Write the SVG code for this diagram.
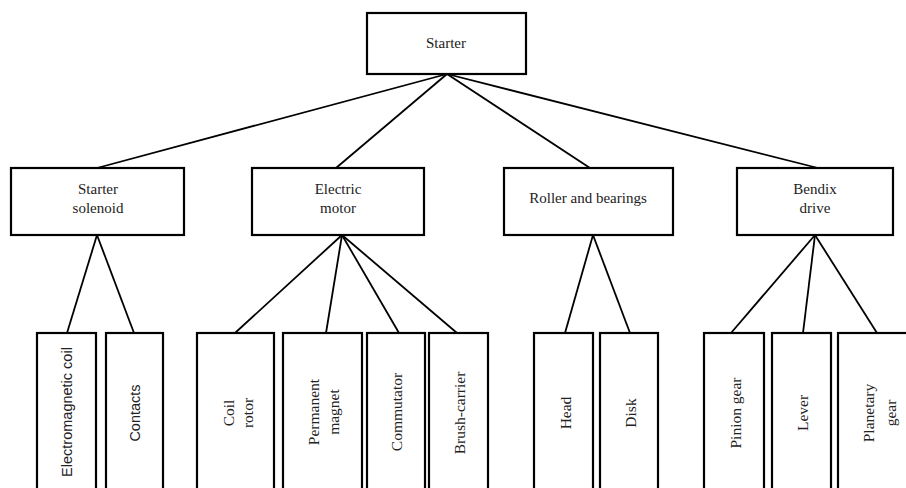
<svg xmlns="http://www.w3.org/2000/svg" width="906" height="488" viewBox="0 0 906 488">
<style>
.box{fill:#fff;stroke:#000;stroke-width:2.2}
.ln{stroke:#000;stroke-width:1.8;fill:none}
.t{font-family:"Liberation Serif","Times New Roman",serif;font-size:15px;fill:#222;text-anchor:middle}
.r{font-family:"Liberation Serif","Times New Roman",serif;font-size:15.5px;fill:#222;text-anchor:middle;dominant-baseline:central}
.s{font-family:"Liberation Sans",Arial,sans-serif;font-size:14.5px;fill:#222;text-anchor:middle;dominant-baseline:central}
</style>
<rect width="906" height="488" fill="#fff"/>
<g id="connectors">
<line class="ln" x1="447" y1="74" x2="97" y2="168"/>
<line class="ln" x1="447" y1="74" x2="336" y2="168"/>
<line class="ln" x1="447" y1="74" x2="590" y2="168"/>
<line class="ln" x1="447" y1="74" x2="818" y2="168"/>
<line class="ln" x1="97" y1="235" x2="67" y2="333"/>
<line class="ln" x1="97" y1="235" x2="134" y2="333"/>
<line class="ln" x1="342" y1="235" x2="235" y2="333"/>
<line class="ln" x1="342" y1="235" x2="326" y2="333"/>
<line class="ln" x1="342" y1="235" x2="399" y2="333"/>
<line class="ln" x1="342" y1="235" x2="457" y2="333"/>
<line class="ln" x1="593" y1="235" x2="565" y2="333"/>
<line class="ln" x1="593" y1="235" x2="630" y2="333"/>
<line class="ln" x1="815" y1="235" x2="731" y2="333"/>
<line class="ln" x1="815" y1="235" x2="803" y2="333"/>
<line class="ln" x1="815" y1="235" x2="877" y2="333"/>
</g>
<g id="starter">
<rect class="box" x="367" y="13" width="159" height="61"/>
<text class="t" x="446" y="48">Starter</text>
</g>
<g id="starter-solenoid">
<rect class="box" x="11" y="168" width="173" height="67"/>
<text class="t" x="98" y="194">Starter</text>
<text class="t" x="98" y="213">solenoid</text>
</g>
<g id="electric-motor">
<rect class="box" x="252" y="168" width="172" height="67"/>
<text class="t" x="338" y="194">Electric</text>
<text class="t" x="338" y="213">motor</text>
</g>
<g id="roller-bearings">
<rect class="box" x="504" y="168" width="169" height="67"/>
<text class="t" x="588" y="203">Roller and bearings</text>
</g>
<g id="bendix-drive">
<rect class="box" x="737" y="168" width="156" height="67"/>
<text class="t" x="815" y="194">Bendix</text>
<text class="t" x="815" y="213">drive</text>
</g>
<g id="electromagnetic-coil">
<rect class="box" x="37" y="333" width="59" height="165"/>
<text class="s" transform="translate(67,412) rotate(-90)">Electromagnetic coil</text>
</g>
<g id="contacts">
<rect class="box" x="106" y="333" width="57" height="165"/>
<text class="s" transform="translate(135,413) rotate(-90)">Contacts</text>
</g>
<g id="coil-rotor">
<rect class="box" x="197" y="333" width="77" height="165"/>
<text class="r" transform="translate(228,413) rotate(-90)">Coil</text>
<text class="r" transform="translate(247,413) rotate(-90)">rotor</text>
</g>
<g id="permanent-magnet">
<rect class="box" x="283" y="333" width="79" height="165"/>
<text class="r" transform="translate(313,412) rotate(-90)">Permanent</text>
<text class="r" transform="translate(333,412) rotate(-90)">magnet</text>
</g>
<g id="commutator">
<rect class="box" x="367" y="333" width="58" height="165"/>
<text class="r" transform="translate(396,412) rotate(-90)">Commutator</text>
</g>
<g id="brush-carrier">
<rect class="box" x="429" y="333" width="59" height="165"/>
<text class="r" transform="translate(459,413) rotate(-90)">Brush-carrier</text>
</g>
<g id="head">
<rect class="box" x="534" y="333" width="59" height="165"/>
<text class="r" transform="translate(565,413) rotate(-90)">Head</text>
</g>
<g id="disk">
<rect class="box" x="600" y="333" width="58" height="165"/>
<text class="r" transform="translate(630,413) rotate(-90)">Disk</text>
</g>
<g id="pinion-gear">
<rect class="box" x="704" y="333" width="60" height="165"/>
<text class="r" transform="translate(735,413) rotate(-90)">Pinion gear</text>
</g>
<g id="lever">
<rect class="box" x="772" y="333" width="59" height="165"/>
<text class="r" transform="translate(802,413) rotate(-90)">Lever</text>
</g>
<g id="planetary-gear">
<rect class="box" x="838" y="333" width="80" height="165"/>
<text class="r" transform="translate(868,413) rotate(-90)">Planetary</text>
<text class="r" transform="translate(890,413) rotate(-90)">gear</text>
</g>
</svg>
